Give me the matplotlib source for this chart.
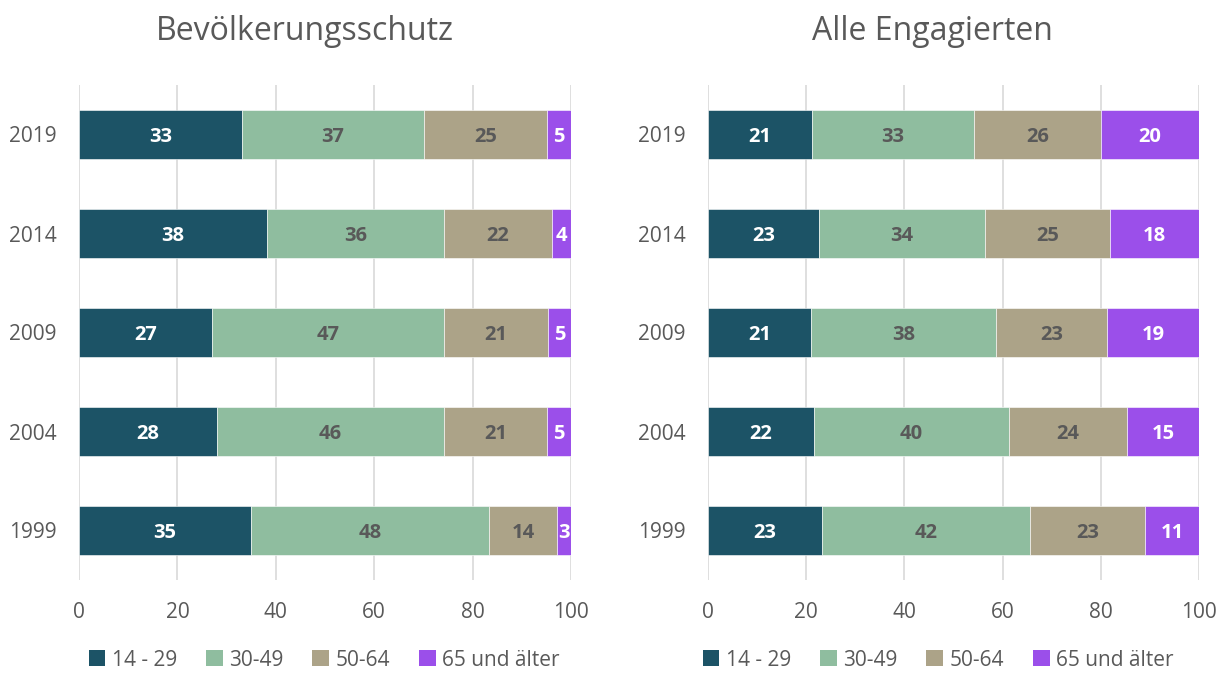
import matplotlib
matplotlib.use("Agg")
import matplotlib.pyplot as plt
from matplotlib.patches import Patch

years = ["1999", "2004", "2009", "2014", "2019"]
groups = ["14 - 29", "30-49", "50-64", "65 und älter"]

# Bevölkerungsschutz (rows follow `years`, columns follow `groups`)
bev_1429 = [35.0, 28.0, 27.0, 38.2, 33.1]
bev_3049 = [48.3, 46.2, 47.1, 36.0, 37.0]
bev_5064 = [13.9, 20.9, 21.3, 21.9, 25.0]
bev_65 = [2.8, 4.9, 4.6, 3.9, 4.9]

# Alle Engagierten
alle_1429 = [23.2, 21.6, 21.0, 22.6, 21.2]
alle_3049 = [42.4, 39.7, 37.7, 33.8, 33.0]
alle_5064 = [23.4, 24.0, 22.6, 25.4, 25.8]
alle_65 = [11.0, 14.7, 18.7, 18.2, 20.0]

titles = ["Bevölkerungsschutz", "Alle Engagierten"]
xticks = [0, 20, 40, 60, 80, 100]

colors = ["#1C5366", "#8FBD9F", "#ACA388", "#9B4FEA"]
label_colors = ["white", "#595959", "#595959", "white"]
gray = "#595959"
FONT = "Open Sans"
plt.rcParams["font.family"] = [FONT, "DejaVu Sans"]

fig = plt.figure(figsize=(12.26, 6.74), dpi=100)
W, H = 1226, 674
axes_px = [(79, 571), (708, 1199)]
title_x = [305, 932]
legend_x = [324, 938]
datasets = [[bev_1429, bev_3049, bev_5064, bev_65],
             [alle_1429, alle_3049, alle_5064, alle_65]]

for k in range(2):
    x0, x1 = axes_px[k]
    ax = fig.add_axes([x0 / W, 1 - 580 / H, (x1 - x0) / W, 495 / H])
    series = datasets[k]
    left = [0.0] * len(years)
    ypos = list(range(len(years)))
    for s, vals in enumerate(series):
        bars = ax.barh(ypos, vals, left=left, height=0.5, color=colors[s],
                       edgecolor="white", linewidth=0.4, zorder=3)
        for i, b in enumerate(bars):
            ax.text(b.get_x() + b.get_width() / 2, b.get_y() + b.get_height() / 2,
                    f"{round(vals[i])}", ha="center", va="center_baseline",
                    color=label_colors[s], fontsize=14.5, fontweight="bold",
                    zorder=4)
        left = [l + v for l, v in zip(left, vals)]
    ax.set_xlim(0, 100)
    ax.set_ylim(-0.5, len(years) - 0.5)
    ax.set_xticks(xticks)
    ax.set_xticklabels([str(t) for t in xticks])
    ax.set_yticks(ypos)
    ax.set_yticklabels(years)
    ax.tick_params(axis="both", length=0, labelsize=15, labelcolor=gray)
    ax.tick_params(axis="x", pad=16)
    ax.tick_params(axis="y", pad=16)
    ax.grid(axis="x", color="#D9D9D9", linewidth=1.2, zorder=0)
    for sp in ax.spines.values():
        sp.set_visible(False)
    fig.text(title_x[k] / W, 1 - 32 / H, titles[k], ha="center", va="center",
             fontsize=23, color=gray)
    handles = [Patch(facecolor=c, edgecolor="none") for c in colors]
    fig.legend(handles, groups, loc="center", bbox_to_anchor=(legend_x[k] / W, 1 - 660 / H),
               ncol=4, frameon=False, fontsize=15, labelcolor=gray,
               handlelength=0.8, handleheight=0.8, handletextpad=0.3,
               columnspacing=1.4, borderpad=0.1)

fig.savefig("out.png", dpi=100)
